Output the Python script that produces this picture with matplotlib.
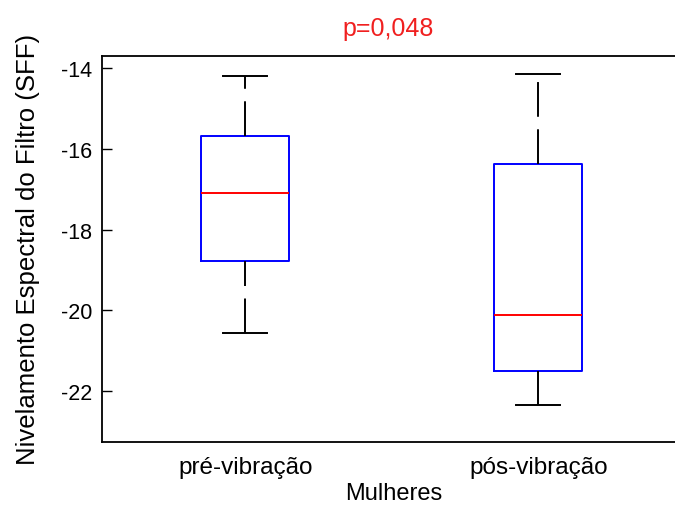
import matplotlib
matplotlib.use("Agg")
import matplotlib.pyplot as plt

# ---- dados ----
grupos = ["pré-vibração", "pós-vibração"]
whis_hi = [-14.18, -14.14]
q3 = [-15.67, -16.36]
medianas = [-17.10, -20.11]
q1 = [-18.77, -21.49]
whis_lo = [-20.56, -22.33]
yticks = [-14, -16, -18, -20, -22]
titulo = "p=0,048"

plt.rcParams["font.family"] = ["Liberation Sans", "DejaVu Sans"]

fig = plt.figure(figsize=(6.75, 5.06), dpi=100)
ax = fig.add_axes([0.1507, 0.1251, 0.8638, 0.7628])

stats = []
for i in range(len(grupos)):
    stats.append({
        "med": medianas[i], "q1": q1[i], "q3": q3[i],
        "whislo": whis_lo[i], "whishi": whis_hi[i],
        "label": grupos[i], "fliers": [],
    })

lw = 1.4
dash = (25 / lw, 9 / lw)
bp = ax.bxp(stats, positions=[1, 2], widths=0.3, capwidths=0.15,
            showfliers=False, patch_artist=False,
            boxprops=dict(color="#0000ff", linewidth=lw),
            medianprops=dict(color="#ff0000", linewidth=lw),
            whiskerprops=dict(color="black", linewidth=lw, linestyle=(0, dash)),
            capprops=dict(color="black", linewidth=lw))
# tracejado do bigode inferior do 1º grupo começa a partir da haste
bp["whiskers"][0].set_linestyle((7 / lw, dash))

ax.set_xlim(0.51, 2.5)
ax.set_ylim(-23.25, -13.69)
ax.set_yticks(yticks)
ax.set_yticklabels([str(v) for v in yticks])

ax.tick_params(axis="y", direction="in", length=7, width=1, pad=7, labelsize=15.5)
ax.tick_params(axis="x", length=0, pad=10, labelsize=17.5)

for s in ["top", "bottom", "left"]:
    ax.spines[s].set_linewidth(1.3)
ax.spines["right"].set_visible(False)

ax.set_title(titulo, color="#f02020", fontsize=18, pad=15, x=0.491)
ax.set_xlabel("Mulheres", fontsize=17, labelpad=3)
ax.set_ylabel("Nivelamento Espectral do Filtro (SFF)", fontsize=18.5)
ax.yaxis.set_label_coords(-0.106, 0.5)

fig.savefig("out.png", dpi=100)
